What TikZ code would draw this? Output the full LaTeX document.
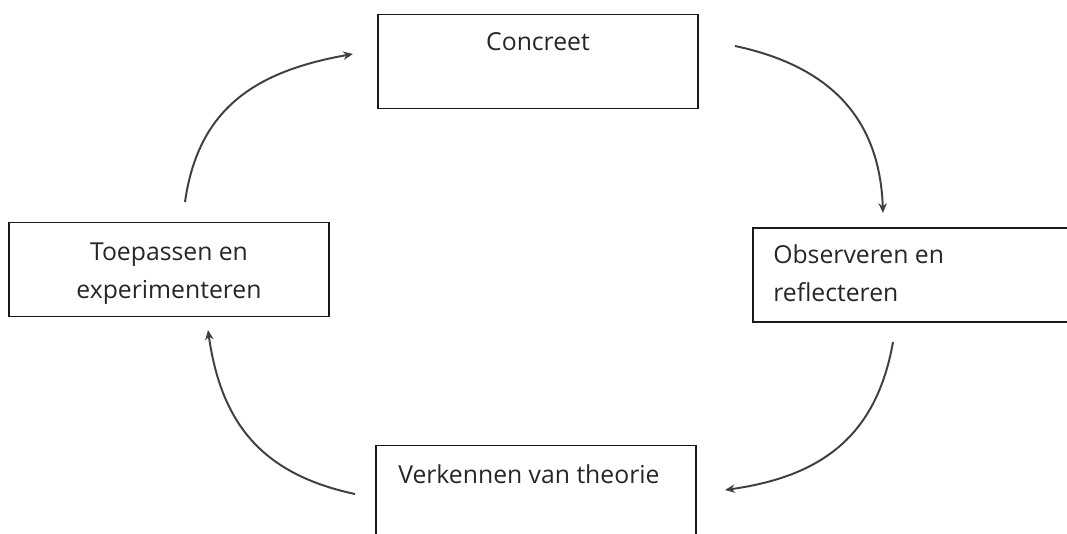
\documentclass[tikz,border=0pt]{standalone}
\usepackage{fontspec}
\setmainfont{Open Sans}
\usetikzlibrary{arrows.meta}
\tikzstyle{stap} = [draw, black!90, line width=1.1pt, minimum width=8cm, minimum height=2.35cm, inner sep=0pt]
\tikzstyle{tekst} = [font=\fontsize{17.6}{26.5}\selectfont, black!85, inner sep=0pt]
\tikzstyle{pijl} = [line width=1.4pt, black!75, looseness=1.1, -{Stealth[length=7pt,width=6pt]}]

\begin{document}
\begin{tikzpicture}
			\useasboundingbox (0,0) rectangle (26.675,13.325);
			\clip (0,0) rectangle (26.675,13.325);
			% de vier stappen
			\node[stap] (concreet) at (13.45,11.7875) {};
			\node[stap] (observeren) at (22.825,6.45) {};
			\node[stap] (toepassen) at (4.225,6.5875) {};
			\node[stap] (verkennen) at (13.4,1.0125) {};
			\node[tekst, anchor=base] (tconcreet) at (13.45,12.05) {Concreet};
			\node[tekst, anchor=base west, align=left] (tobserveren) at (19.325,5.8) {Observeren en\\reflecteren};
			\node[tekst, anchor=base, align=center] (ttoepassen) at (4.225,5.875) {Toepassen en\\experimenteren};
			\node[tekst, anchor=base west] (tverkennen) at (9.95,1.25) {Verkennen van theorie};
			% pijlen
			\coordinate (p1a) at (4.625,8.275);
			\coordinate (p1b) at (8.825,11.975);
			\coordinate (p2a) at (18.375,12.175);
			\coordinate (p2b) at (22.075,8.0);
			\coordinate (p3a) at (22.325,4.775);
			\coordinate (p3b) at (18.125,1.075);
			\coordinate (p4a) at (8.875,0.975);
			\coordinate (p4b) at (5.2,5.075);
			\draw[pijl] (p1a) to[out=82, in=190] (p1b);
			\draw[pijl] (p2a) to[out=-12, in=92] (p2b);
			\draw[pijl] (p3a) to[out=-100, in=8] (p3b);
			\draw[pijl] (p4a) to[out=168, in=-82] (p4b);
			
		\end{tikzpicture}
\end{document}
